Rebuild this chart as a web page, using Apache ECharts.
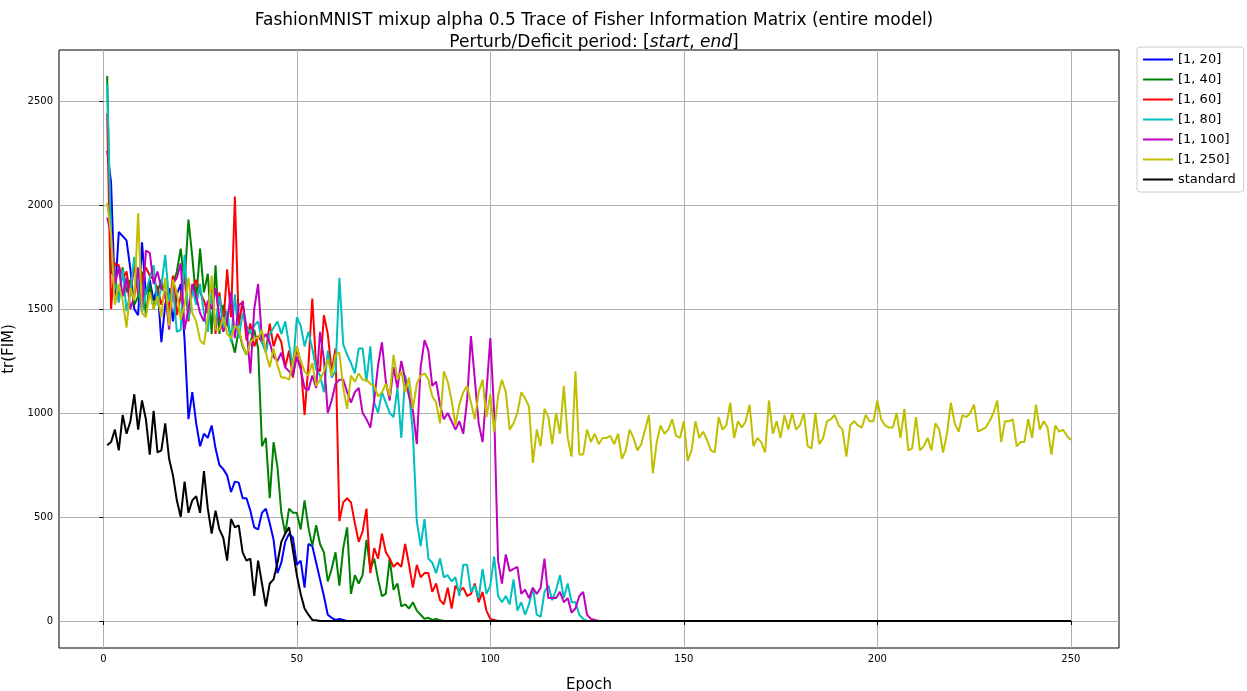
<!DOCTYPE html>
<html lang="en">
<head>
    <meta charset="UTF-8">
    <title>FashionMNIST mixup FIM</title>
    <script src="https://cdn.jsdelivr.net/npm/echarts@6.0.0/dist/echarts.min.js"></script>
</head>
<body style="margin: 0">
    <div id="main" style="width:1247px;height:691px"></div>
    <script type="text/javascript">
        // values per epoch, starting at epoch 1; series then stay at ~0 until epoch 250
        var seriesNames = ['[1, 20]', '[1, 40]', '[1, 60]', '[1, 80]', '[1, 100]', '[1, 250]', 'standard'];
        var colors = ['#0000ff', '#008000', '#ff0000', '#00bfbf', '#bf00bf', '#bfbf00', '#000000'];
        var lastEpoch = 250;
        var xTicks = [0, 50, 100, 150, 200, 250];
        var yTicks = [0, 500, 1000, 1500, 2000, 2500];

        var blue = [2260, 2110, 1560, 1870, 1850, 1830, 1690, 1500, 1470, 1820,
            1570, 1640, 1540, 1610, 1340, 1520, 1600, 1440, 1570, 1620,
            1350, 970, 1100, 950, 840, 900, 880, 940, 830, 750,
            730, 700, 620, 670, 665, 590, 590, 530, 450, 440,
            520, 540, 470, 390, 230, 280, 380, 420, 400, 270,
            290, 160, 370, 360, 280, 200, 120, 30, 15, 5,
            10, 5, 0];
        var green = [2620, 1680, 1650, 1550, 1700, 1580, 1640, 1520, 1560, 1680,
            1470, 1620, 1500, 1580, 1640, 1560, 1490, 1620, 1680, 1790,
            1620, 1930, 1750, 1540, 1790, 1580, 1670, 1380, 1710, 1380,
            1520, 1440, 1360, 1290, 1400, 1320, 1280, 1340, 1400, 1310,
            840, 880, 590, 860, 740, 520, 420, 540, 520, 520,
            440, 580, 450, 360, 460, 370, 330, 190, 250, 330,
            170, 350, 450, 130, 220, 180, 220, 390, 250, 300,
            200, 120, 130, 300, 150, 180, 70, 80, 60, 90,
            50, 30, 10, 15, 5, 10, 3, 0];
        var red = [2440, 1500, 1720, 1710, 1640, 1680, 1560, 1720, 1570, 1650,
            1700, 1660, 1640, 1600, 1520, 1580, 1500, 1660, 1470, 1560,
            1660, 1440, 1600, 1640, 1580, 1540, 1480, 1620, 1380, 1580,
            1420, 1690, 1460, 2040, 1420, 1540, 1350, 1430, 1320, 1370,
            1340, 1300, 1430, 1320, 1380, 1340, 1220, 1300, 1170, 1320,
            1240, 990, 1230, 1550, 1220, 1200, 1470, 1380, 1200, 1310,
            480, 570, 590, 570, 470, 380, 430, 540, 230, 350,
            300, 420, 330, 300, 260, 280, 260, 370, 270, 160,
            270, 210, 230, 230, 140, 180, 100, 80, 160, 60,
            170, 140, 160, 120, 130, 180, 90, 140, 50, 10,
            5, 0];
        var cyan = [2580, 1830, 1640, 1530, 1690, 1490, 1580, 1750, 1620, 1480,
            1580, 1650, 1710, 1520, 1610, 1760, 1540, 1600, 1390, 1400,
            1760, 1450, 1600, 1520, 1620, 1480, 1390, 1580, 1420, 1560,
            1410, 1490, 1340, 1570, 1360, 1480, 1420, 1380, 1420, 1440,
            1340, 1290, 1380, 1410, 1440, 1380, 1440, 1330, 1220, 1460,
            1420, 1320, 1390, 1310, 1210, 1180, 1100, 1300, 1170, 1200,
            1650, 1330, 1280, 1240, 1190, 1310, 1310, 1150, 1320, 1050,
            1000, 1100, 1050, 1000, 980, 1120, 880, 1180, 1100, 900,
            480, 360, 490, 300, 280, 230, 300, 210, 220, 190,
            210, 120, 270, 270, 140, 170, 110, 250, 130, 170,
            310, 120, 90, 120, 80, 200, 50, 90, 30, 80,
            160, 30, 20, 140, 170, 100, 150, 220, 110, 180,
            90, 90, 30, 10, 0];
        var magenta = [1940, 1860, 1620, 1700, 1560, 1650, 1500, 1560, 1700, 1500,
            1780, 1770, 1620, 1680, 1600, 1580, 1400, 1620, 1650, 1720,
            1400, 1500, 1620, 1560, 1480, 1440, 1540, 1500, 1600, 1460,
            1390, 1440, 1580, 1360, 1520, 1530, 1410, 1190, 1500, 1620,
            1350, 1380, 1340, 1270, 1250, 1290, 1220, 1200, 1180, 1270,
            1210, 1120, 1110, 1180, 1120, 1390, 1260, 1000, 1060, 1140,
            1160, 1160, 1100, 1050, 1100, 1120, 1000, 970, 930, 1060,
            1230, 1340, 1150, 1060, 1220, 1120, 1250, 1160, 1080, 1010,
            850, 1220, 1350, 1300, 1130, 1150, 1040, 970, 1000, 960,
            920, 960, 900, 1060, 1370, 1160, 950, 860, 1100, 1360,
            1000, 290, 180, 320, 240, 250, 260, 130, 150, 110,
            160, 130, 160, 300, 110, 110, 110, 140, 90, 110,
            40, 60, 120, 140, 30, 10, 5, 0];
        var yellow = [2010, 1860, 1520, 1620, 1540, 1410, 1600, 1540, 1960, 1480,
            1460, 1580, 1500, 1560, 1460, 1650, 1420, 1640, 1580, 1450,
            1520, 1650, 1480, 1440, 1350, 1330, 1460, 1660, 1400, 1400,
            1460, 1380, 1360, 1420, 1400, 1330, 1280, 1340, 1360, 1360,
            1400, 1290, 1220, 1310, 1230, 1170, 1170, 1160, 1240, 1320,
            1250, 1200, 1180, 1240, 1130, 1160, 1200, 1260, 1180, 1280,
            1290, 1120, 1020, 1180, 1150, 1190, 1160, 1160, 1140, 1130,
            1080, 1100, 1140, 1080, 1280, 1160, 1200, 1100, 1170, 1020,
            1140, 1180, 1190, 1160, 1080, 1050, 950, 1200, 1150, 1060,
            940, 1040, 1100, 1130, 1050, 970, 1100, 1160, 980, 1090,
            910, 1080, 1160, 1100, 920, 950, 1000, 1100, 1070, 1030,
            760, 920, 840, 1020, 980, 850, 1000, 900, 1130, 880,
            790, 1200, 800, 800, 920, 860, 900, 850, 880, 880,
            890, 850, 900, 780, 820, 920, 880, 820, 850, 920,
            990, 710, 860, 940, 900, 920, 970, 890, 880, 960,
            770, 820, 960, 880, 910, 870, 820, 810, 980, 920,
            940, 1050, 880, 960, 930, 960, 1040, 840, 880, 860,
            810, 1060, 900, 960, 880, 990, 920, 1000, 920, 940,
            1000, 840, 830, 1000, 850, 880, 960, 970, 990, 940,
            920, 790, 940, 960, 940, 930, 990, 960, 960, 1060,
            970, 940, 930, 930, 1000, 880, 1020, 820, 830, 980,
            820, 840, 880, 820, 950, 920, 810, 900, 1050, 950,
            910, 990, 980, 1000, 1040, 910, 920, 930, 960, 1000,
            1060, 860, 960, 960, 970, 840, 860, 860, 970, 880,
            1040, 920, 960, 930, 800, 940, 910, 920, 890, 870];
        var standard = [845, 860, 920, 820, 990, 900, 960, 1090, 920, 1060,
            970, 800, 1010, 810, 820, 950, 780, 700, 580, 500,
            670, 520, 580, 600, 520, 720, 540, 420, 530, 440,
            400, 290, 490, 450, 460, 330, 290, 300, 120, 290,
            180, 70, 180, 200, 280, 380, 420, 450, 340, 220,
            130, 60, 30, 5, 3, 0];

        var allValues = [blue, green, red, cyan, magenta, yellow, standard];

        function toPairs(vals) {
            var out = vals.map(function (v, i) { return [i + 1, v]; });
            if (vals.length < lastEpoch) out.push([lastEpoch, 0]);
            return out;
        }

        function plain(v) { return String(v); }

        var chart = echarts.init(document.getElementById('main'));
        var option = {
            animation: false,
            textStyle: { fontFamily: 'DejaVu Sans' },
            title: {
                text: 'FashionMNIST mixup alpha 0.5 Trace of Fisher Information Matrix (entire model)\n{n|Perturb/Deficit period: [}{i|start}{n|, }{i|end}{n|]}',
                left: 589,
                textAlign: 'center',
                top: 5,
                textStyle: {
                    fontSize: 17, fontWeight: 'normal', color: '#000', lineHeight: 22,
                    rich: {
                        n: { fontSize: 17, color: '#000' },
                        i: { fontSize: 17, color: '#000', fontStyle: 'italic' }
                    }
                }
            },
            legend: {
                orient: 'vertical',
                left: 1137,
                top: 47,
                itemWidth: 30,
                itemHeight: 2,
                itemGap: 7,
                padding: [6, 8, 6, 6],
                borderColor: '#cccccc',
                borderWidth: 1,
                borderRadius: 3,
                icon: 'rect',
                textStyle: { fontSize: 13, color: '#000' },
                data: seriesNames
            },
            grid: {
                left: 59, right: 128, top: 50, bottom: 43,
                outerBoundsMode: 'none',
                containLabel: false,
                show: true, borderColor: '#000', borderWidth: 1
            },
            xAxis: {
                type: 'value',
                min: -11.45, max: 262.45,
                name: 'Epoch', nameLocation: 'middle', nameGap: 30,
                nameTextStyle: { fontSize: 15, color: '#000' },
                axisLine: { show: false },
                axisTick: { show: true, inside: false, customValues: xTicks, length: 4, lineStyle: { color: '#000' } },
                axisLabel: { customValues: xTicks, fontSize: 10, color: '#000', formatter: plain, margin: 6 },
                splitLine: { show: true, lineStyle: { color: '#b0b0b0' } }
            },
            yAxis: {
                type: 'value',
                min: -130, max: 2745,
                name: 'tr(FIM)', nameLocation: 'middle', nameGap: 42,
                nameTextStyle: { fontSize: 15, color: '#000' },
                axisLine: { show: false },
                axisTick: { show: true, inside: false, customValues: yTicks, length: 4, lineStyle: { color: '#000' } },
                axisLabel: { customValues: yTicks, fontSize: 10, color: '#000', formatter: plain, margin: 6 },
                splitLine: { show: true, lineStyle: { color: '#b0b0b0' } }
            },
            series: seriesNames.map(function (name, k) {
                return {
                    name: name,
                    type: 'line',
                    data: toPairs(allValues[k]),
                    showSymbol: false,
                    color: colors[k],
                    lineStyle: { width: 2, color: colors[k] }
                };
            })
        };
        chart.setOption(option);
    </script>
</body>
</html>
